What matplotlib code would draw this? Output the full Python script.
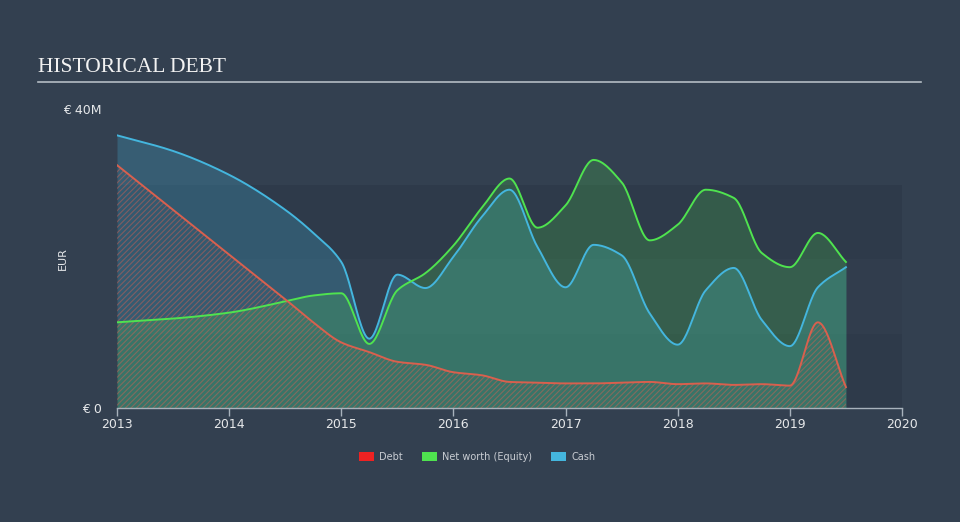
import numpy as np
import matplotlib
matplotlib.use("Agg")
import matplotlib.pyplot as plt
from matplotlib.patches import Patch

# ---------------- Data (EUR millions) ---------------- #

years = [2013, 2013.5, 2014, 2014.5, 2014.75, 2015, 2015.25, 2015.5, 2015.75,
         2016, 2016.25, 2016.5, 2016.75, 2017, 2017.25, 2017.5, 2017.75,
         2018, 2018.25, 2018.5, 2018.75, 2019, 2019.25, 2019.5]

cash = [36.6, 34.5, 31.3, 26.6, 23.5, 19.6, 9.3, 17.9, 16.1,
        20.3, 25.6, 29.3, 21.6, 16.2, 21.9, 20.5, 12.7,
        8.5, 15.8, 18.8, 11.8, 8.3, 16.2, 18.9]

equity = [11.5, 12.0, 12.8, 14.3, 15.1, 15.4, 8.6, 15.8, 18.1,
          21.8, 26.8, 30.8, 24.2, 27.2, 33.3, 30.3, 22.5,
          24.6, 29.3, 28.2, 20.8, 18.9, 23.5, 19.6]

debt = [32.6, 26.6, 20.6, 14.6, 11.5, 8.8, 7.5, 6.2, 5.8,
        4.8, 4.4, 3.5, 3.4, 3.3, 3.3, 3.4, 3.5,
        3.2, 3.3, 3.1, 3.2, 3.0, 11.5, 2.8]

x_ticks = [2013, 2014, 2015, 2016, 2017, 2018, 2019, 2020]
y_ticks = [0, 40]
y_tick_labels = ["€ 0", "€ 40M"]


def monotone_curve(x, y, n=25):
    # monotone cubic (Fritsch-Carlson) for drawing smooth lines
    x = np.asarray(x, float)
    y = np.asarray(y, float)
    h = np.diff(x)
    d = np.diff(y) / h
    m = np.zeros_like(y)
    m[0], m[-1] = d[0], d[-1]
    for i in range(1, len(y) - 1):
        if d[i - 1] * d[i] <= 0:
            m[i] = 0
        else:
            w1 = 2 * h[i] + h[i - 1]
            w2 = h[i] + 2 * h[i - 1]
            m[i] = (w1 + w2) / (w1 / d[i - 1] + w2 / d[i])
    xs, ys = [], []
    for i in range(len(x) - 1):
        t = np.linspace(0, 1, n, endpoint=False)
        h00 = 2 * t**3 - 3 * t**2 + 1
        h10 = t**3 - 2 * t**2 + t
        h01 = -2 * t**3 + 3 * t**2
        h11 = t**3 - t**2
        xs.append(x[i] + t * h[i])
        ys.append(h00 * y[i] + h10 * h[i] * m[i] + h01 * y[i + 1] + h11 * h[i] * m[i + 1])
    xs.append([x[-1]])
    ys.append([y[-1]])
    return np.concatenate(xs), np.concatenate(ys)


bg = "#334050"
fig = plt.figure(figsize=(9.6, 5.22), dpi=100, facecolor=bg)
ax = fig.add_axes([117 / 960, 1 - 408 / 522, 785 / 960, 298 / 522])
ax.set_facecolor(bg)

ax.axhspan(0, 10, color="#2e3a4a", lw=0, zorder=0)
ax.axhspan(10, 20, color="#313d4d", lw=0, zorder=0)
ax.axhspan(20, 30, color="#2e3a4a", lw=0, zorder=0)

cx, cy = monotone_curve(years, cash)
ex, ey = monotone_curve(years, equity)
dx, dy = monotone_curve(years, debt)

ax.fill_between(cx, 0, cy, color="#44b6de", alpha=0.25, lw=0, zorder=1)
ax.fill_between(ex, 0, ey, color="#4fe34f", alpha=0.2, lw=0, zorder=1)

plt.rcParams["hatch.linewidth"] = 0.8
ax.fill_between(dx, 0, dy, facecolor="none", edgecolor="#e0604f", alpha=0.45,
                hatch="//////", lw=0, zorder=2)

ax.plot(cx, cy, color="#44b6de", lw=1.4, zorder=3)
ax.plot(ex, ey, color="#4fe34f", lw=1.4, zorder=3)
ax.plot(dx, dy, color="#d9604e", lw=1.4, zorder=3)

ax.set_xlim(2013, 2020)
ax.set_ylim(0, 40)

for s in ["top", "right", "left"]:
    ax.spines[s].set_visible(False)
ax.spines["bottom"].set_color("#a8b2bc")
ax.spines["bottom"].set_linewidth(1)

ax.set_xticks(x_ticks)
ax.set_xticklabels([str(t) for t in x_ticks])
ax.tick_params(axis="x", colors="#a8b2bc", length=6, width=1, labelcolor="#e6e8ea",
               labelsize=9, pad=1)
ax.set_yticks(y_ticks)
ax.set_yticklabels(y_tick_labels)
ax.tick_params(axis="y", length=0, labelcolor="#e6e8ea", labelsize=9, pad=11)
ax.get_yticklabels()[1].set_verticalalignment("center")

ax.set_ylabel("EUR", color="#e6e8ea", fontsize=8)
ax.yaxis.set_label_coords(-(117 - 68) / 785, 0.5)

# ---------------- Title ---------------- #

fig.text(38 / 960, 1 - 67 / 522, "HISTORICAL DEBT", family="Liberation Serif",
         fontsize=15.5, color="#f2f2f2", va="center", ha="left")
fig.add_artist(plt.Line2D([38 / 960, 921 / 960], [1 - 82 / 522, 1 - 82 / 522],
                          color="#b4bcc4", lw=1.2))

# ---------------- Legend ---------------- #

handles = [
    Patch(facecolor="#ee2222", label="Debt"),
    Patch(facecolor="#4fe34f", label="Net worth (Equity)"),
    Patch(facecolor="#44b6de", label="Cash"),
]
fig.legend(handles=handles, loc="center", bbox_to_anchor=(477 / 960, 1 - 457 / 522),
           ncol=3, frameon=False, fontsize=7, labelcolor="#c8ccd2",
           handlelength=1.55, handleheight=1.1, columnspacing=2.0, handletextpad=0.5)

fig.savefig("out.png", dpi=100, facecolor=bg)
